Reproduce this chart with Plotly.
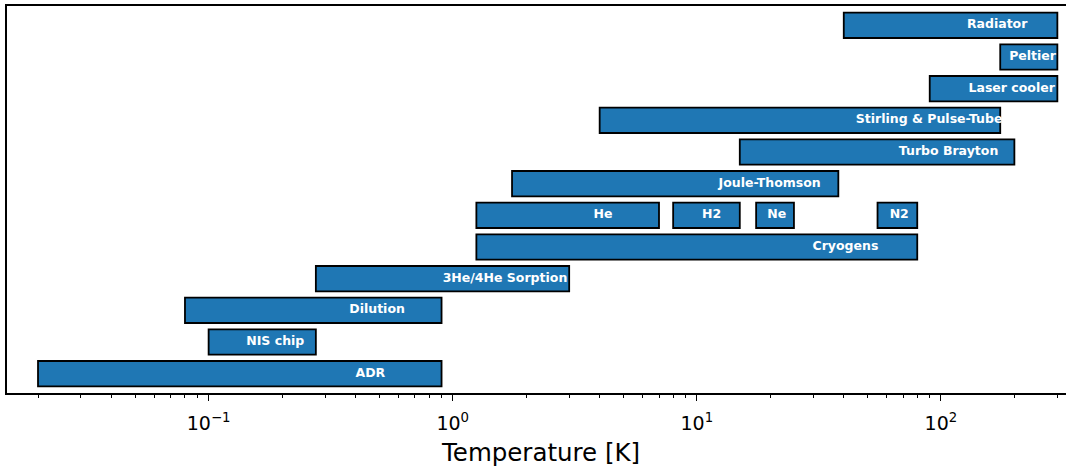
import plotly.graph_objects as go

# ---- data ----
names = ["ADR", "NIS chip", "Dilution", "3He/4He Sorption", "Cryogens",
         "He", "H2", "Ne", "N2", "Joule-Thomson", "Turbo Brayton",
         "Stirling & Pulse-Tube", "Laser cooler", "Peltier", "Radiator"]
rows = [0, 1, 2, 3, 4, 5, 5, 5, 5, 6, 7, 8, 9, 10, 11]
t_min = [0.02, 0.1, 0.08, 0.275, 1.25, 1.25, 8, 17.5, 55, 1.75, 15, 4, 90, 175, 40]
t_max = [0.9, 0.275, 0.9, 3, 80, 7, 15, 25, 80, 38, 200, 175, 300, 300, 300]
tick_vals = [0.1, 1, 10, 100]
tick_text = ["10<sup>\u22121</sup>", "10<sup>0</sup>", "10<sup>1</sup>", "10<sup>2</sup>"]

BLUE = "#1f77b4"
FONT = "DejaVu Sans"

widths = [b - a for a, b in zip(t_min, t_max)]
mids = [(a + b) / 2 for a, b in zip(t_min, t_max)]

fig = go.Figure()
fig.add_trace(go.Bar(
    orientation="h",
    y=rows,
    base=t_min,
    x=widths,
    width=0.8,
    marker=dict(color=BLUE, line=dict(color="black", width=1.8)),
    hoverinfo="skip",
    showlegend=False,
))
fig.add_trace(go.Scatter(
    x=mids,
    y=rows,
    mode="text",
    text=[f"<b>{n}</b>" for n in names],
    textposition="middle center",
    textfont=dict(family=FONT, size=12.5, color="white"),
    cliponaxis=True,
    hoverinfo="skip",
    showlegend=False,
))

minor_vals = [m * 10 ** e for e in range(-2, 3) for m in range(2, 10)]

fig.update_layout(
    width=1066, height=467,
    margin=dict(l=7, r=0, t=6, b=74),
    paper_bgcolor="white", plot_bgcolor="white",
    barmode="overlay",
    font=dict(family=FONT, color="black"),
    xaxis=dict(
        type="log",
        range=[-1.826, 2.5125],
        tickvals=tick_vals,
        ticktext=tick_text,
        ticks="outside", ticklen=6, tickwidth=1.2, tickcolor="black",
        tickfont=dict(family=FONT, size=19, color="black"),
        ticklabelstandoff=6,
        minor=dict(ticks="outside", ticklen=3.5, tickwidth=1, tickcolor="black",
                   tickmode="array", tickvals=minor_vals, showgrid=False),
        showgrid=False, zeroline=False,
        showline=True, linecolor="black", linewidth=1.5, mirror=True,
    ),
    yaxis=dict(
        range=[-0.61, 11.61],
        showticklabels=False, ticks="",
        showgrid=False, zeroline=False,
        showline=True, linecolor="black", linewidth=1.5, mirror=False,
    ),
    annotations=[dict(
        text="Temperature [K]", xref="paper", yref="paper",
        x=0.5042, y=0, xanchor="center", yanchor="middle", yshift=-59,
        showarrow=False, font=dict(family=FONT, size=24.5, color="black"),
    )],
)

fig.write_html(
    "out.html",
    config={"displayModeBar": False},
    post_script="document.body.style.margin='0';document.body.style.overflow='hidden';"
                "document.documentElement.style.overflow='hidden';",
)
